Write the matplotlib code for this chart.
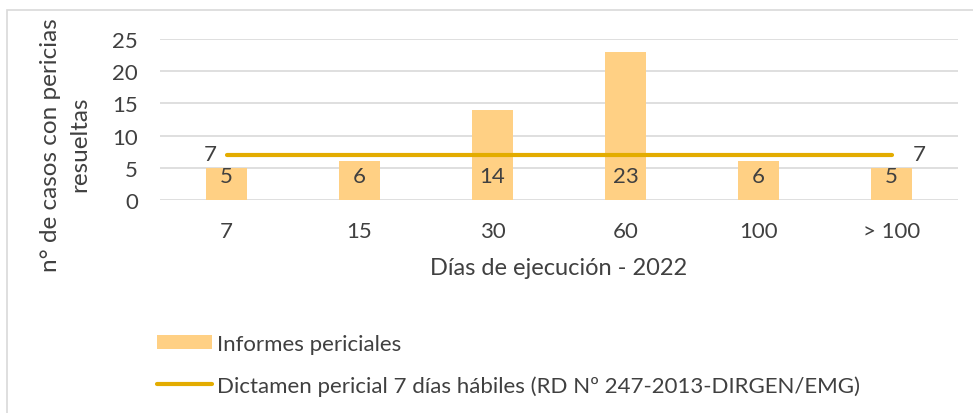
import matplotlib.pyplot as plt
from matplotlib.patches import Patch, Rectangle
from matplotlib.lines import Line2D

plt.rcParams['font.family'] = ['Lato', 'DejaVu Sans']

# --- Data ---
dias = ["7", "15", "30", "60", "100", "> 100"]
informes = [5, 6, 14, 23, 6, 5]
dictamen = [7, 7, 7, 7, 7, 7]

bar_color = "#FFD084"
line_color = "#E3AC00"
text_color = "#404040"
grid_color = "#D9D9D9"

fig = plt.figure(figsize=(9.73, 4.14), dpi=100)
ax = fig.add_axes([160/973, 1 - 201/414, 798/973, 161/414])

x = list(range(len(dias)))
ax.bar(x, informes, width=0.31, color=bar_color, zorder=2)
ax.plot(x, dictamen, color=line_color, lw=3, solid_capstyle='round', zorder=3)

# bar labels (inside base)
for xi, v in zip(x, informes):
    ax.text(xi, 3.7, str(v), ha='center', va='center', fontsize=16, color=text_color, zorder=4)

# line labels at first and last point
ax.annotate(str(dictamen[0]), (x[0], dictamen[0]), xytext=(-12, 1), textcoords='offset points',
            ha='center', va='center', fontsize=16, color=text_color)
ax.annotate(str(dictamen[-1]), (x[-1], dictamen[-1]), xytext=(20, 1), textcoords='offset points',
            ha='center', va='center', fontsize=16, color=text_color)

ax.set_xlim(-0.5, len(dias) - 0.5)
ax.set_ylim(0, 25)
ax.set_yticks([0, 5, 10, 15, 20, 25])
ax.set_xticks(x)
ax.set_xticklabels(dias)
ax.tick_params(axis='both', length=0, labelsize=16, colors=text_color)
ax.tick_params(axis='y', pad=16)
ax.tick_params(axis='x', pad=15)
ax.grid(axis='y', color=grid_color, lw=1.2, zorder=0)
for s in ax.spines.values():
    s.set_visible(False)

ax.set_xlabel("Días de ejecución - 2022", fontsize=17, color=text_color, labelpad=12)
ax.set_ylabel("n° de casos con pericias\nresueltas", fontsize=17.5, color=text_color,
              linespacing=1.45)
ax.yaxis.set_label_coords(-70/798, 0.35)

# legend
handles = [Patch(facecolor=bar_color, edgecolor='none'),
           Line2D([0], [0], color=line_color, lw=3, solid_capstyle='round')]
labels = ["Informes periciales", "Dictamen pericial 7 días hábiles (RD Nº 247-2013-DIRGEN/EMG)"]
fig.legend(handles, labels, loc='upper left', bbox_to_anchor=(148/973, 1 - 326/414),
           frameon=False, fontsize=16, labelcolor=text_color, handlelength=2.5,
           handleheight=0.6, handletextpad=0.2, labelspacing=0.95, borderaxespad=0)

# chart border
fig.patches.append(Rectangle((7/973, -0.1), 1.1, 1 - 11/414 + 0.1, transform=fig.transFigure,
                             fill=False, edgecolor=grid_color, lw=1.2))

fig.savefig("out.png", dpi=100)
